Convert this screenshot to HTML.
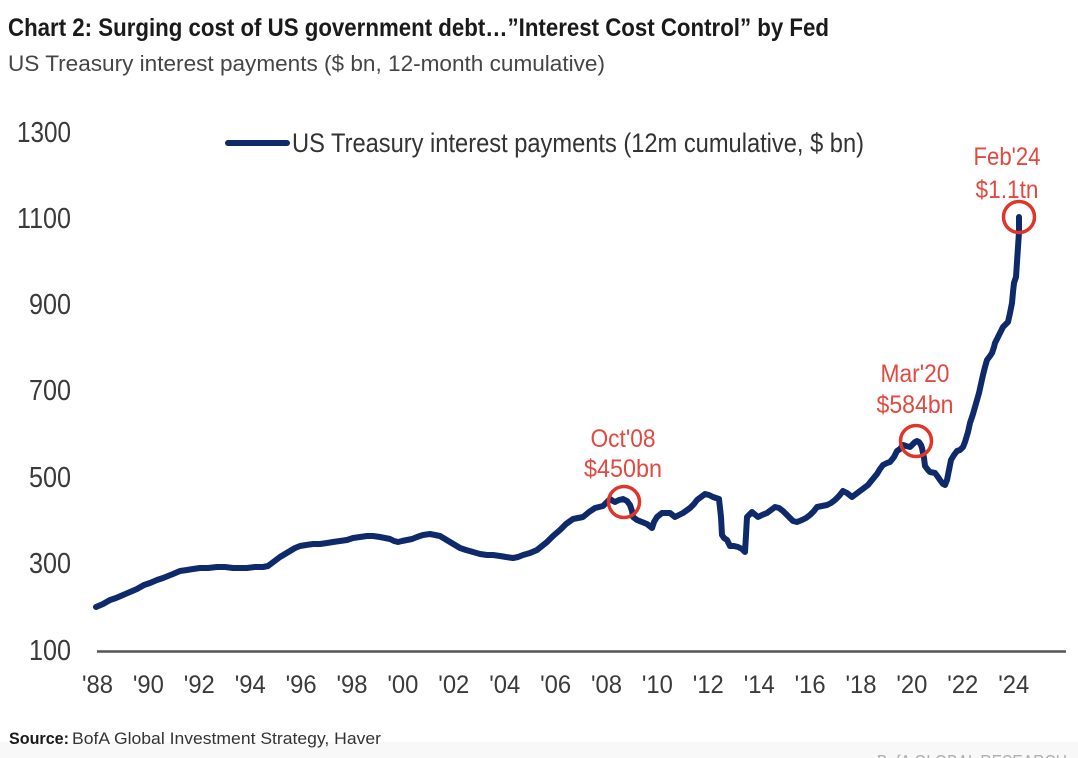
<!DOCTYPE html>
<html>
<head>
<meta charset="utf-8">
<style>
  html, body { margin: 0; padding: 0; background: #ffffff; }
  body { width: 1078px; height: 758px; overflow: hidden; }
  svg { display: block; }
  text { font-family: "Liberation Sans", "DejaVu Sans", sans-serif; }
</style>
</head>
<body>
<svg width="1078" height="758" viewBox="0 0 1078 758" xmlns="http://www.w3.org/2000/svg">
  <rect x="0" y="0" width="1078" height="758" fill="#ffffff"/>
  <rect x="0" y="742" width="1078" height="16" fill="#f8f8f8"/>

  <!-- Title -->
  <text x="8" y="36" font-size="25" font-weight="bold" fill="#1a1a1a" textLength="821" lengthAdjust="spacingAndGlyphs">Chart 2: Surging cost of US government debt…”Interest Cost Control” by Fed</text>
  <text x="8" y="71" font-size="22" fill="#454545" textLength="597" lengthAdjust="spacingAndGlyphs">US Treasury interest payments ($ bn, 12-month cumulative)</text>

  <!-- Y axis labels -->
  <g font-size="29" fill="#3a3a3a">
    <text x="17" y="142" textLength="54" lengthAdjust="spacingAndGlyphs">1300</text>
    <text x="17" y="228" textLength="54" lengthAdjust="spacingAndGlyphs">1100</text>
    <text x="29" y="314" textLength="42" lengthAdjust="spacingAndGlyphs">900</text>
    <text x="29" y="400" textLength="42" lengthAdjust="spacingAndGlyphs">700</text>
    <text x="29" y="487" textLength="42" lengthAdjust="spacingAndGlyphs">500</text>
    <text x="29" y="573" textLength="42" lengthAdjust="spacingAndGlyphs">300</text>
    <text x="29" y="660" textLength="42" lengthAdjust="spacingAndGlyphs">100</text>
  </g>

  <!-- X axis line -->
  <line x1="97" y1="651.5" x2="1066" y2="651.5" stroke="#555555" stroke-width="2.5"/>

  <!-- X axis labels -->
  <g font-size="25" fill="#3a3a3a">
    <text x="82" y="693" textLength="31" lengthAdjust="spacingAndGlyphs">'88</text>
    <text x="132.9" y="693" textLength="31" lengthAdjust="spacingAndGlyphs">'90</text>
    <text x="183.8" y="693" textLength="31" lengthAdjust="spacingAndGlyphs">'92</text>
    <text x="234.7" y="693" textLength="31" lengthAdjust="spacingAndGlyphs">'94</text>
    <text x="285.6" y="693" textLength="31" lengthAdjust="spacingAndGlyphs">'96</text>
    <text x="336.5" y="693" textLength="31" lengthAdjust="spacingAndGlyphs">'98</text>
    <text x="387.4" y="693" textLength="31" lengthAdjust="spacingAndGlyphs">'00</text>
    <text x="438.3" y="693" textLength="31" lengthAdjust="spacingAndGlyphs">'02</text>
    <text x="489.2" y="693" textLength="31" lengthAdjust="spacingAndGlyphs">'04</text>
    <text x="540.1" y="693" textLength="31" lengthAdjust="spacingAndGlyphs">'06</text>
    <text x="591" y="693" textLength="31" lengthAdjust="spacingAndGlyphs">'08</text>
    <text x="641.9" y="693" textLength="31" lengthAdjust="spacingAndGlyphs">'10</text>
    <text x="692.8" y="693" textLength="31" lengthAdjust="spacingAndGlyphs">'12</text>
    <text x="743.7" y="693" textLength="31" lengthAdjust="spacingAndGlyphs">'14</text>
    <text x="794.6" y="693" textLength="31" lengthAdjust="spacingAndGlyphs">'16</text>
    <text x="845.5" y="693" textLength="31" lengthAdjust="spacingAndGlyphs">'18</text>
    <text x="896.4" y="693" textLength="31" lengthAdjust="spacingAndGlyphs">'20</text>
    <text x="947.3" y="693" textLength="31" lengthAdjust="spacingAndGlyphs">'22</text>
    <text x="998.2" y="693" textLength="31" lengthAdjust="spacingAndGlyphs">'24</text>
  </g>

  <!-- Legend -->
  <line x1="228" y1="143" x2="287" y2="143" stroke="#0f2a6b" stroke-width="6" stroke-linecap="round"/>
  <text x="292" y="152" font-size="27" fill="#333333" textLength="572" lengthAdjust="spacingAndGlyphs">US Treasury interest payments (12m cumulative, $ bn)</text>

  <!-- Series -->
  <polyline fill="none" stroke="#0f2a6b" stroke-width="6" stroke-linejoin="round" stroke-linecap="round"
    points="96,607 103,604 110,600 116,598 123,595 130,592 137,589 144,585 150,583 157,580 163,578 168,576 173,574 180,571 187,570 193,569 200,568 208,568 217,567 225,567 233,568 240,568 247,568 255,567 263,567 268,566 272,563 276,560 280,557 285,554 290,551 295,548 300,546 306,545 313,544 320,544 327,543 333,542 340,541 347,540 353,538 360,537 367,536 373,536 380,537 385,538 390,539 394,541 398,542 402,541 407,540 412,539 417,537 423,535 430,534 435,535 440,536 445,539 450,542 455,545 460,548 466,550 473,552 480,554 487,555 493,555 500,556 506,557 513,558 518,557 523,555 530,553 537,550 542,546 547,542 553,536 560,530 566,524 573,519 578,518 583,517 589,512 595,508 599,507 603,506 607,502 610,499 613,501 615,502 619,500 623,499 627,501 630,505 632,511 633,517 637,520 642,522 647,524 652,528 654,522 657,517 662,513 666,513 670,513 675,517 679,515 683,513 690,508 694,504 697,500 701,497 705,494 709,495 713,497 716,498 719,499 721,517 722,535 724,538 727,540 730,546 734,546 738,547 742,549 745,552 746,535 747,517 752,512 758,517 762,515 767,513 771,510 775,507 779,508 783,511 788,516 793,521 797,522 802,520 806,518 810,515 814,511 817,507 822,506 827,505 831,503 835,500 839,496 843,491 847,493 852,497 856,494 860,491 864,488 868,485 872,480 877,474 880,469 883,465 887,463 890,462 894,457 897,451 900,449 903,445 906,446 910,447 913,444 915,442 917,441 919,442 921,445 922,448 924,458 925,466 928,470 930,472 935,473 938,477 940,480 943,484 945,485 947,480 949,470 951,460 954,455 957,451 960,450 963,447 965,442 968,432 970,423 973,414 975,407 977,400 979,393 981,384 983,375 985,367 987,360 990,356 992,353 994,347 995,343 998,337 1000,333 1002,329 1003,327 1006,324 1008,322 1010,313 1012,303 1013,292 1014,283 1016,277 1017,262 1018,247 1019,232 1019,217"/>

  <!-- Annotations -->
  <g fill="none" stroke="#e0352b" stroke-width="3.5">
    <circle cx="624" cy="502" r="15.5"/>
    <circle cx="916" cy="441" r="15.5"/>
    <circle cx="1019" cy="217" r="15.5"/>
  </g>
  <g font-size="25" fill="#e2493f">
    <text x="590.5" y="447" textLength="65" lengthAdjust="spacingAndGlyphs">Oct'08</text>
    <text x="584" y="477" textLength="78" lengthAdjust="spacingAndGlyphs">$450bn</text>
    <text x="880.5" y="382" textLength="69" lengthAdjust="spacingAndGlyphs">Mar'20</text>
    <text x="876.5" y="413" textLength="77" lengthAdjust="spacingAndGlyphs">$584bn</text>
    <text x="973.5" y="165" textLength="67" lengthAdjust="spacingAndGlyphs">Feb'24</text>
    <text x="975.5" y="198" textLength="63" lengthAdjust="spacingAndGlyphs">$1.1tn</text>
  </g>

  <!-- Source -->
  <text x="9" y="744" font-size="17" fill="#1a1a1a"><tspan font-weight="bold" textLength="60" lengthAdjust="spacingAndGlyphs">Source:</tspan></text>
  <text x="72" y="744" font-size="17" fill="#333333" textLength="309" lengthAdjust="spacingAndGlyphs">BofA Global Investment Strategy, Haver</text>

  <!-- Clipped watermark -->
  <text x="877" y="768" font-size="18" fill="#b0b0b0" textLength="190" lengthAdjust="spacingAndGlyphs">BofA GLOBAL RESEARCH</text>
</svg>
</body>
</html>
